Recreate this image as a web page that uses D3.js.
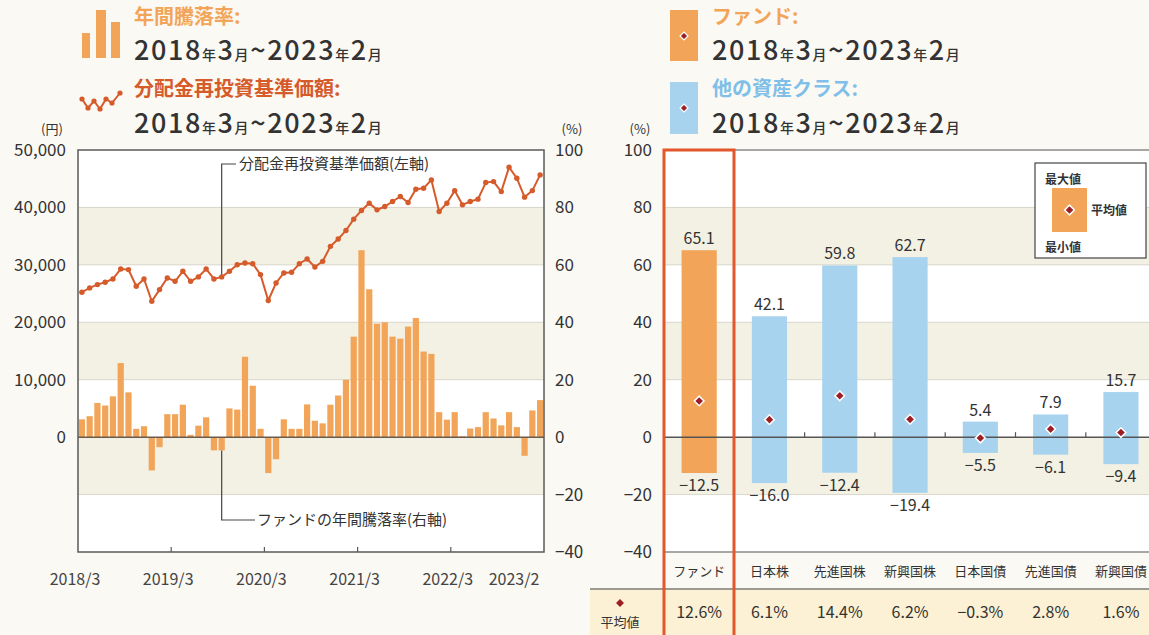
<!DOCTYPE html>
<html>
<head>
<meta charset="utf-8">
<script src="https://cdn.jsdelivr.net/npm/d3@7"></script>
<style>
  html, body { margin: 0; padding: 0; background: #fbf9f3; }
  svg { display: block; font-family: 'Noto Sans CJK JP', 'Noto Sans', sans-serif; }
</style>
</head>
<body>
<div id="chart"></div>
<script>
// left panel: fund annual return (bars, right axis) + NAV with dividends reinvested (line, left axis)
const months = d3.timeMonths(new Date(2018, 2, 1), new Date(2023, 2, 1)); // 2018/3 .. 2023/2
const annualReturn = [
  6.2, 7.3, 11.9, 11.0, 14.2, 25.8, 15.6, 2.9, 3.8, -11.6,
  -3.5, 8.0, 8.0, 11.3, 0.8, 4.0, 6.9, -4.6, -4.6, 10.0,
  9.6, 28.0, 17.9, 2.9, -12.5, -7.7, 6.2, 2.9, 2.9, 11.4,
  5.7, 4.8, 11.3, 14.5, 20.0, 35.0, 65.1, 51.5, 39.5, 40.0,
  35.0, 34.3, 38.5, 41.5, 29.8, 29.0, 8.7, 6.1, 8.7, 0.3,
  3.0, 3.5, 8.7, 6.5, 4.1, 8.7, 3.5, -6.5, 9.3, 12.9
];
const navValues = [
  25230, 25990, 26560, 26970, 27550, 29290, 29170, 26270, 27550, 23670,
  25690, 27720, 27140, 28880, 27140, 27900, 29290, 27550, 27900, 28880,
  30030, 30320, 30200, 28300, 23790, 26850, 28590, 28700, 30200, 31020,
  29630, 30610, 33220, 34490, 35990, 37960, 39470, 40740, 39580, 40160,
  41030, 41900, 40860, 43170, 43350, 44790, 39290, 40740, 42930, 40450,
  41030, 41440, 44330, 44500, 42760, 47000, 45090, 41790, 42930, 45660
];
const xTickLabels = ['2018/3', '2019/3', '2020/3', '2021/3', '2022/3', '2023/2'];
const xTickIdx = [0, 12, 24, 36, 48, 59];
const yenTicks = [0, 10000, 20000, 30000, 40000, 50000];
const pctTicks = [-40, -20, 0, 20, 40, 60, 80, 100];
const shadedBands = [[60, 80], [20, 40], [-20, 0]];

// right panel: range of annual returns by asset class
const assetClasses = ['ファンド', '日本株', '先進国株', '新興国株', '日本国債', '先進国債', '新興国債'];
const maxVals = [65.1, 42.1, 59.8, 62.7, 5.4, 7.9, 15.7];
const minVals = [-12.5, -16.0, -12.4, -19.4, -5.5, -6.1, -9.4];
const avgVals = [12.6, 6.1, 14.4, 6.2, -0.3, 2.8, 1.6];

const W = 1149, H = 635;
const ORANGE = '#f2a558', LINE = '#d65b2b', BLUE = '#a7d3ef', DIAMOND = '#9b1f24';
const BAND = '#f3f0e4', TXT = '#333';

const svg = d3.select('#chart').append('svg').attr('width', W).attr('height', H);

const diamond = d3.symbol().type(d3.symbolDiamond2).size(60);

function period(g, x, y) {
  const t = g.append('text').attr('x', x).attr('y', y).attr('fill', '#333')
    .style('font-weight', 500).style('letter-spacing', '1.6px');
  const parts = [['2018', 27], ['年', 14], ['3', 27], ['月', 14], ['~', 27], ['2023', 27], ['年', 14], ['2', 27], ['月', 14]];
  parts.forEach(([s, fs]) => t.append('tspan').style('font-size', fs + 'px').text(s));
}

// ---------- LEFT PANEL ----------
const L = { left: 78, right: 544, top: 150, bottom: 552 };
const x = d3.scaleBand().domain(d3.range(months.length)).range([L.left, L.right]).paddingInner(0.2).paddingOuter(0.1);
const yPct = d3.scaleLinear().domain([-40, 100]).range([L.bottom, L.top]);
const yYen = d3.scaleLinear().domain([-20000, 50000]).range([L.bottom, L.top]);

const left = svg.append('g');
left.append('rect').attr('x', L.left).attr('y', L.top).attr('width', L.right - L.left)
  .attr('height', L.bottom - L.top).attr('fill', '#fff');
left.selectAll('.band').data(shadedBands).join('rect')
  .attr('x', L.left).attr('width', L.right - L.left)
  .attr('y', d => yPct(d[1])).attr('height', d => yPct(d[0]) - yPct(d[1]))
  .attr('fill', BAND);
left.selectAll('.grid').data(pctTicks.filter(d => d !== 0 && d > -40 && d < 100)).join('line')
  .attr('x1', L.left).attr('x2', L.right).attr('y1', d => yPct(d)).attr('y2', d => yPct(d))
  .attr('stroke', '#d9d6cc').attr('stroke-width', 1);

// annotation leader lines
const annIdx = 18;
const annX = x(annIdx) + x.bandwidth() / 2;
left.append('path').attr('fill', 'none').attr('stroke', '#444').attr('stroke-width', 1.2)
  .attr('d', `M${annX},${yYen(navValues[annIdx])}V164H236`);
left.append('path').attr('fill', 'none').attr('stroke', '#444').attr('stroke-width', 1.2)
  .attr('d', `M${annX},${yPct(annualReturn[annIdx])}V520H255`);
left.append('text').attr('x', 239).attr('y', 164).attr('dy', '0.35em').attr('fill', TXT)
  .style('font-size', '15px').text('分配金再投資基準価額(左軸)');
left.append('text').attr('x', 257).attr('y', 520).attr('dy', '0.35em').attr('fill', TXT)
  .style('font-size', '15px').text('ファンドの年間騰落率(右軸)');

// bars
left.selectAll('.bar').data(annualReturn).join('rect')
  .attr('x', (d, i) => x(i)).attr('width', x.bandwidth())
  .attr('y', d => yPct(Math.max(0, d))).attr('height', d => Math.abs(yPct(d) - yPct(0)))
  .attr('fill', ORANGE);

left.append('line').attr('x1', L.left).attr('x2', L.right).attr('y1', yPct(0)).attr('y2', yPct(0))
  .attr('stroke', '#6b5b4c').attr('stroke-width', 1.5);

// NAV line
const line = d3.line().x((d, i) => x(i) + x.bandwidth() / 2).y(d => yYen(d));
left.append('path').datum(navValues).attr('d', line).attr('fill', 'none')
  .attr('stroke', LINE).attr('stroke-width', 2);
left.selectAll('.dot').data(navValues).join('circle')
  .attr('cx', (d, i) => x(i) + x.bandwidth() / 2).attr('cy', d => yYen(d)).attr('r', 2.7)
  .attr('fill', LINE);

// frame
left.append('rect').attr('x', L.left).attr('y', L.top).attr('width', L.right - L.left)
  .attr('height', L.bottom - L.top).attr('fill', 'none').attr('stroke', '#5a5a5a').attr('stroke-width', 1.5);

// axes
const axL = left.append('g').attr('transform', `translate(${L.left - 9},0)`)
  .call(d3.axisLeft(yYen).tickValues(yenTicks).tickFormat(d3.format(',')).tickSize(0));
axL.select('.domain').remove();
axL.selectAll('text').attr('fill', TXT).style('font-size', '17px').style('font-family', 'Noto Sans CJK JP');

const axR = left.append('g').attr('transform', `translate(${L.right + 8},0)`)
  .call(d3.axisRight(yPct).tickValues(pctTicks).tickSize(0));
axR.select('.domain').remove();
axR.selectAll('text').attr('fill', TXT).style('font-size', '17px').style('font-family', 'Noto Sans CJK JP');

left.append('text').attr('x', 52).attr('y', 134).attr('text-anchor', 'middle').attr('fill', TXT)
  .style('font-size', '13px').text('(円)');
left.append('text').attr('x', 572).attr('y', 134).attr('text-anchor', 'middle').attr('fill', TXT)
  .style('font-size', '13px').text('(%)');

xTickIdx.forEach((mi, k) => {
  const px = k === 0 ? L.left : (k === xTickIdx.length - 1 ? L.right : x(mi) - x.step() * x.paddingInner() / 2);
  if (k > 0 && k < xTickIdx.length - 1) {
    left.append('line').attr('x1', px).attr('x2', px).attr('y1', L.bottom).attr('y2', L.bottom - 5)
      .attr('stroke', '#5a5a5a').attr('stroke-width', 1.2);
  }
  left.append('text').attr('x', k === xTickIdx.length - 1 ? L.right - 30 : px - 3).attr('y', 585)
    .attr('text-anchor', 'middle').attr('fill', '#444')
    .style('font-size', '16px').text(xTickLabels[k]);
});

// left legend
const lg = svg.append('g');
const iconBars = [[82, 8, 33], [96, 10, 10], [111, 9, 22]];
lg.selectAll('.ib').data(iconBars).join('rect')
  .attr('x', d => d[0]).attr('width', d => d[1]).attr('y', d => d[2]).attr('height', d => 58 - d[2])
  .attr('fill', ORANGE);
lg.append('text').attr('x', 134).attr('y', 24).attr('fill', ORANGE).style('font-size', '20px')
  .style('font-weight', 700).text('年間騰落率:');
period(lg, 134, 60);
const iconPts = [[82, 99], [88, 108], [94, 101], [100, 109], [106, 99], [112, 103], [120, 93]];
lg.append('path').datum(iconPts).attr('d', d3.line()).attr('fill', 'none').attr('stroke', LINE).attr('stroke-width', 2);
lg.selectAll('.ip').data(iconPts).join('circle').attr('cx', d => d[0]).attr('cy', d => d[1]).attr('r', 2.6).attr('fill', LINE);
lg.append('text').attr('x', 134).attr('y', 96).attr('fill', LINE).style('font-size', '20px')
  .style('font-weight', 700).text('分配金再投資基準価額:');
period(lg, 134, 133);

// ---------- RIGHT PANEL ----------
const R = { left: 664, right: 1149, top: 150, bottom: 552 };
const xc = d3.scaleBand().domain(assetClasses).range([664, 664 + 70.3 * assetClasses.length]).paddingInner(0.5).paddingOuter(0.25);
const yR = d3.scaleLinear().domain([-40, 100]).range([R.bottom, R.top]);

const right = svg.append('g');
right.append('rect').attr('x', R.left).attr('y', R.top).attr('width', R.right - R.left)
  .attr('height', R.bottom - R.top).attr('fill', '#fff');
right.selectAll('.band').data(shadedBands).join('rect')
  .attr('x', R.left).attr('width', R.right - R.left)
  .attr('y', d => yR(d[1])).attr('height', d => yR(d[0]) - yR(d[1]))
  .attr('fill', BAND);
right.selectAll('.grid').data(pctTicks.filter(d => d !== 0 && d > -40 && d < 100)).join('line')
  .attr('x1', R.left).attr('x2', R.right).attr('y1', d => yR(d)).attr('y2', d => yR(d))
  .attr('stroke', '#d9d6cc').attr('stroke-width', 1);
right.append('line').attr('x1', R.left).attr('x2', R.right).attr('y1', R.top).attr('y2', R.top)
  .attr('stroke', '#8a8a8a').attr('stroke-width', 1.5);
right.append('line').attr('x1', R.left).attr('x2', R.right).attr('y1', R.bottom).attr('y2', R.bottom)
  .attr('stroke', '#8a8a8a').attr('stroke-width', 1.5);

const axR2 = right.append('g').attr('transform', `translate(${R.left - 9},0)`)
  .call(d3.axisLeft(yR).tickValues(pctTicks).tickSize(0));
axR2.select('.domain').remove();
axR2.selectAll('text').attr('fill', TXT).style('font-size', '17px').style('font-family', 'Noto Sans CJK JP');
right.append('text').attr('x', 640).attr('y', 134).attr('text-anchor', 'middle').attr('fill', TXT)
  .style('font-size', '13px').text('(%)');

right.selectAll('.rbar').data(assetClasses).join('rect')
  .attr('x', d => xc(d)).attr('width', xc.bandwidth())
  .attr('y', (d, i) => yR(maxVals[i])).attr('height', (d, i) => yR(minVals[i]) - yR(maxVals[i]))
  .attr('fill', (d, i) => i === 0 ? ORANGE : BLUE);

right.append('line').attr('x1', R.left).attr('x2', R.right).attr('y1', yR(0)).attr('y2', yR(0))
  .attr('stroke', '#555').attr('stroke-width', 1.5);
assetClasses.slice(1).forEach(c => {
  const bx = xc(c) - xc.step() * xc.paddingInner() / 2;
  right.append('line').attr('x1', bx).attr('x2', bx).attr('y1', yR(0)).attr('y2', yR(0) - 5)
    .attr('stroke', '#555').attr('stroke-width', 1.2);
});

right.selectAll('.dia').data(assetClasses).join('path')
  .attr('transform', (d, i) => `translate(${xc(d) + xc.bandwidth() / 2},${yR(avgVals[i])})`)
  .attr('d', diamond).attr('fill', DIAMOND).attr('stroke', '#fff').attr('stroke-width', 1.5);

const fmt1 = d3.format('.1f');
right.selectAll('.maxl').data(assetClasses).join('text')
  .attr('x', d => xc(d) + xc.bandwidth() / 2).attr('y', (d, i) => yR(maxVals[i]) - 6)
  .attr('text-anchor', 'middle').attr('fill', TXT).style('font-size', '16px')
  .text((d, i) => fmt1(maxVals[i]));
right.selectAll('.minl').data(assetClasses).join('text')
  .attr('x', d => xc(d) + xc.bandwidth() / 2).attr('y', (d, i) => yR(minVals[i]) + 18)
  .attr('text-anchor', 'middle').attr('fill', TXT).style('font-size', '16px')
  .text((d, i) => fmt1(minVals[i]));

// category labels + average row
right.selectAll('.cat').data(assetClasses).join('text')
  .attr('x', d => xc(d) + xc.bandwidth() / 2).attr('y', 576)
  .attr('text-anchor', 'middle').attr('fill', TXT).style('font-size', '13px').text(d => d);
right.append('rect').attr('x', 590).attr('y', 589).attr('width', W - 590).attr('height', H - 589).attr('fill', '#fcf1d4');
right.append('line').attr('x1', 590).attr('x2', W).attr('y1', 589).attr('y2', 589)
  .attr('stroke', '#9d9a92').attr('stroke-width', 2);
right.append('path').attr('transform', 'translate(620,603)').attr('d', d3.symbol().type(d3.symbolDiamond2).size(40))
  .attr('fill', DIAMOND);
right.append('text').attr('x', 620).attr('y', 627).attr('text-anchor', 'middle').attr('fill', TXT)
  .style('font-size', '13px').text('平均値');
right.selectAll('.avg').data(assetClasses).join('text')
  .attr('x', d => xc(d) + xc.bandwidth() / 2).attr('y', 618)
  .attr('text-anchor', 'middle').attr('fill', TXT).style('font-size', '16px')
  .text((d, i) => fmt1(avgVals[i]) + '%');

// highlight around fund column
right.append('rect').attr('x', 664).attr('y', 150).attr('width', 70).attr('height', 490)
  .attr('fill', 'none').attr('stroke', '#e2572b').attr('stroke-width', 3);

// inset key
const key = right.append('g');
key.append('rect').attr('x', 1035).attr('y', 163).attr('width', 111).attr('height', 95)
  .attr('fill', '#fff').attr('stroke', '#444').attr('stroke-width', 1.2);
key.append('rect').attr('x', 1052).attr('y', 188).attr('width', 35).attr('height', 44).attr('fill', ORANGE);
key.append('path').attr('transform', 'translate(1069.5,210)').attr('d', diamond)
  .attr('fill', DIAMOND).attr('stroke', '#fff').attr('stroke-width', 1.5);
key.append('text').attr('x', 1045).attr('y', 184).attr('fill', TXT).style('font-size', '12px').style('font-weight', 700).text('最大値');
key.append('text').attr('x', 1091).attr('y', 215).attr('fill', TXT).style('font-size', '12px').style('font-weight', 700).text('平均値');
key.append('text').attr('x', 1045).attr('y', 252).attr('fill', TXT).style('font-size', '12px').style('font-weight', 700).text('最小値');

// right legend
const rg = svg.append('g');
rg.append('rect').attr('x', 670).attr('y', 10).attr('width', 28).attr('height', 51).attr('fill', ORANGE);
rg.append('path').attr('transform', 'translate(684,36)').attr('d', d3.symbol().type(d3.symbolDiamond2).size(40))
  .attr('fill', DIAMOND).attr('stroke', '#fff').attr('stroke-width', 1.2);
rg.append('text').attr('x', 712).attr('y', 24).attr('fill', ORANGE).style('font-size', '20px')
  .style('font-weight', 700).text('ファンド:');
period(rg, 712, 60);
rg.append('rect').attr('x', 670).attr('y', 82).attr('width', 28).attr('height', 52).attr('fill', BLUE);
rg.append('path').attr('transform', 'translate(684,108)').attr('d', d3.symbol().type(d3.symbolDiamond2).size(40))
  .attr('fill', DIAMOND).attr('stroke', '#fff').attr('stroke-width', 1.2);
rg.append('text').attr('x', 712).attr('y', 96).attr('fill', '#7fbfe8').style('font-size', '20px')
  .style('font-weight', 700).text('他の資産クラス:');
period(rg, 712, 133);
</script>
</body>
</html>
